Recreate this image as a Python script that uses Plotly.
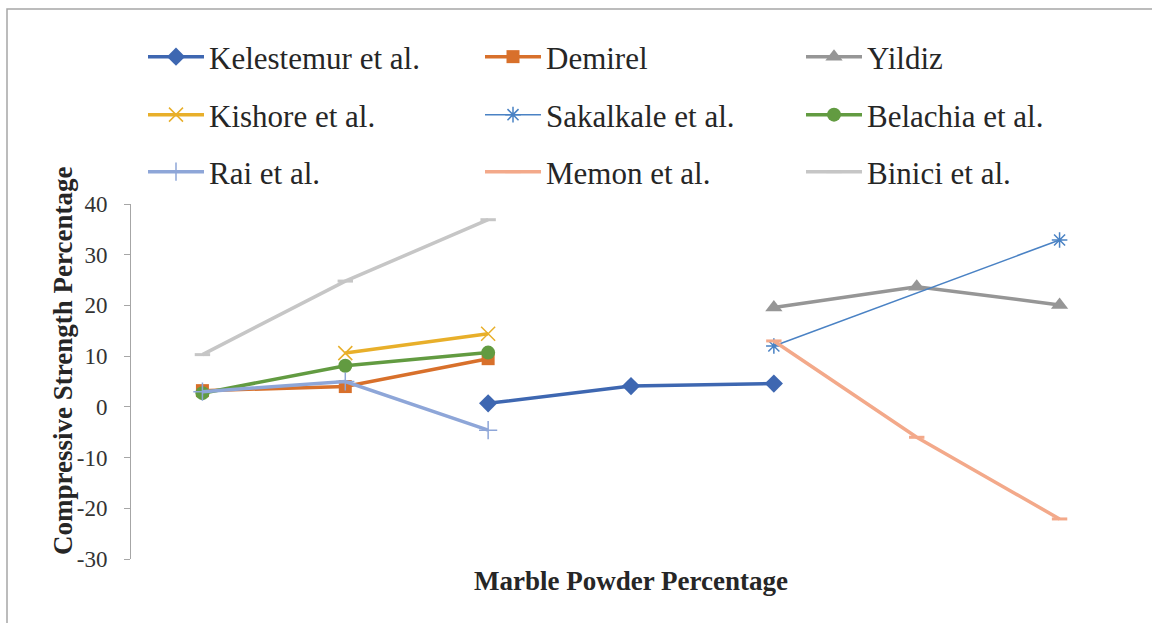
import plotly.graph_objects as go

# Marble powder replacement levels (category slots along the x axis, unlabeled)
positions = [1, 2, 3, 4, 5, 6, 7]

# Compressive strength change (%) reported by each study
kelestemur = [None, None, 0.7, 4.1, 4.6, None, None]
demirel = [3.2, 4.0, 9.5, None, None, None, None]
yildiz = [None, None, None, None, 19.6, 23.7, 20.1]
kishore = [None, 10.6, 14.4, None, None, None, None]
sakalkale = [None, None, None, None, 12.0, None, 32.9]
belachia = [2.7, 8.1, 10.7, None, None, None, None]
rai = [3.0, 5.0, -4.6, None, None, None, None]
memon = [None, None, None, None, 13.0, -6.0, -22.1]
binici = [10.3, 24.8, 36.9, None, None, None, None]

y_ticks = [-30, -20, -10, 0, 10, 20, 30, 40]
y_tick_text = [str(v) for v in y_ticks]

FONT = "Liberation Serif"

series = [
    # name, values, color, marker symbol, marker size, line width
    ("Kelestemur et al.", kelestemur, "#3E67B1", "diamond", 14, 3.5),
    ("Demirel", demirel, "#D8702B", "square", 13, 3.5),
    ("Yildiz", yildiz, "#969696", "triangle-up", 15, 3.5),
    ("Kishore et al.", kishore, "#E8AF2A", "x-thin-open", 14, 3.5),
    ("Sakalkale et al.", sakalkale, "#4A82C4", "asterisk-open", 13, 1.5),
    ("Belachia et al.", belachia, "#629B41", "circle", 14, 3.5),
    ("Rai et al.", rai, "#8EA6D8", "cross-thin-open", 13, 3.5),
    ("Memon et al.", memon, "#F3A98A", "line-ew-open", 11, 3.5),
    ("Binici et al.", binici, "#C6C6C6", "line-ew-open", 11, 3.5),
]

# Plot area in pixels: x 131..1131, y 204..559
W, H = 1152, 623
L, R, T, B = 131, 21, 204, 64
pw, ph = W - L - R, H - T - B


def px(x):
    return (x - L) / pw


def py(y):
    return (H - B - y) / ph


# Legend grid: 3 columns x 3 rows, one small legend per entry
legend_cols = [143, 480, 801]
legend_rows = [57, 115, 172]

fig = go.Figure()
legend_layouts = {}
for i, (name, vals, color, symbol, size, lw) in enumerate(series):
    key = "legend" if i == 0 else f"legend{i + 1}"
    if symbol.startswith("line"):
        mlw = 3
    elif symbol.endswith("open"):
        mlw = 1.5
    else:
        mlw = 0
    fig.add_trace(go.Scatter(
        x=positions, y=vals, name=name, mode="lines+markers",
        connectgaps=True, legend=key,
        line=dict(color=color, width=lw),
        marker=dict(symbol=symbol, size=size, color=color,
                    line=dict(color=color, width=mlw)),
    ))
    legend_layouts[key] = dict(
        x=px(legend_cols[i % 3]), y=py(legend_rows[i // 3]),
        xanchor="left", yanchor="middle", orientation="h",
        font=dict(family=FONT, size=31, color="#262626"),
        bgcolor="rgba(0,0,0,0)", itemwidth=56,
    )

fig.update_layout(
    width=W, height=H,
    margin=dict(l=L, r=R, t=T, b=B),
    paper_bgcolor="white", plot_bgcolor="white",
    showlegend=True,
    xaxis=dict(range=[0.5, 7.5], showticklabels=False, ticks="",
               showline=False, showgrid=False, zeroline=False),
    yaxis=dict(range=[-30, 40], tickvals=y_ticks, ticktext=y_tick_text,
               showgrid=False, zeroline=False, showline=True,
               linecolor="#A6A6A6", linewidth=1,
               ticks="outside", ticklen=6, tickcolor="#A6A6A6",
               ticklabelstandoff=12,
               tickfont=dict(family=FONT, size=23, color="#333333")),
    shapes=[dict(type="rect", xref="paper", yref="paper",
                 x0=px(7), x1=px(1170), y0=py(640), y1=py(9),
                 line=dict(color="#A6A6A6", width=1.5), layer="below")],
    annotations=[
        dict(text="<b>Marble Powder Percentage</b>", xref="paper", yref="paper",
             x=px(631), y=py(581), xanchor="center", yanchor="middle",
             showarrow=False, font=dict(family=FONT, size=27, color="#262626")),
        dict(text="<b>Compressive Strength Percentage</b>", xref="paper", yref="paper",
             x=px(63), y=py(361), xanchor="center", yanchor="middle", textangle=-90,
             showarrow=False, font=dict(family=FONT, size=27, color="#262626")),
    ],
    **legend_layouts,
)

fig.write_html("out.html")
